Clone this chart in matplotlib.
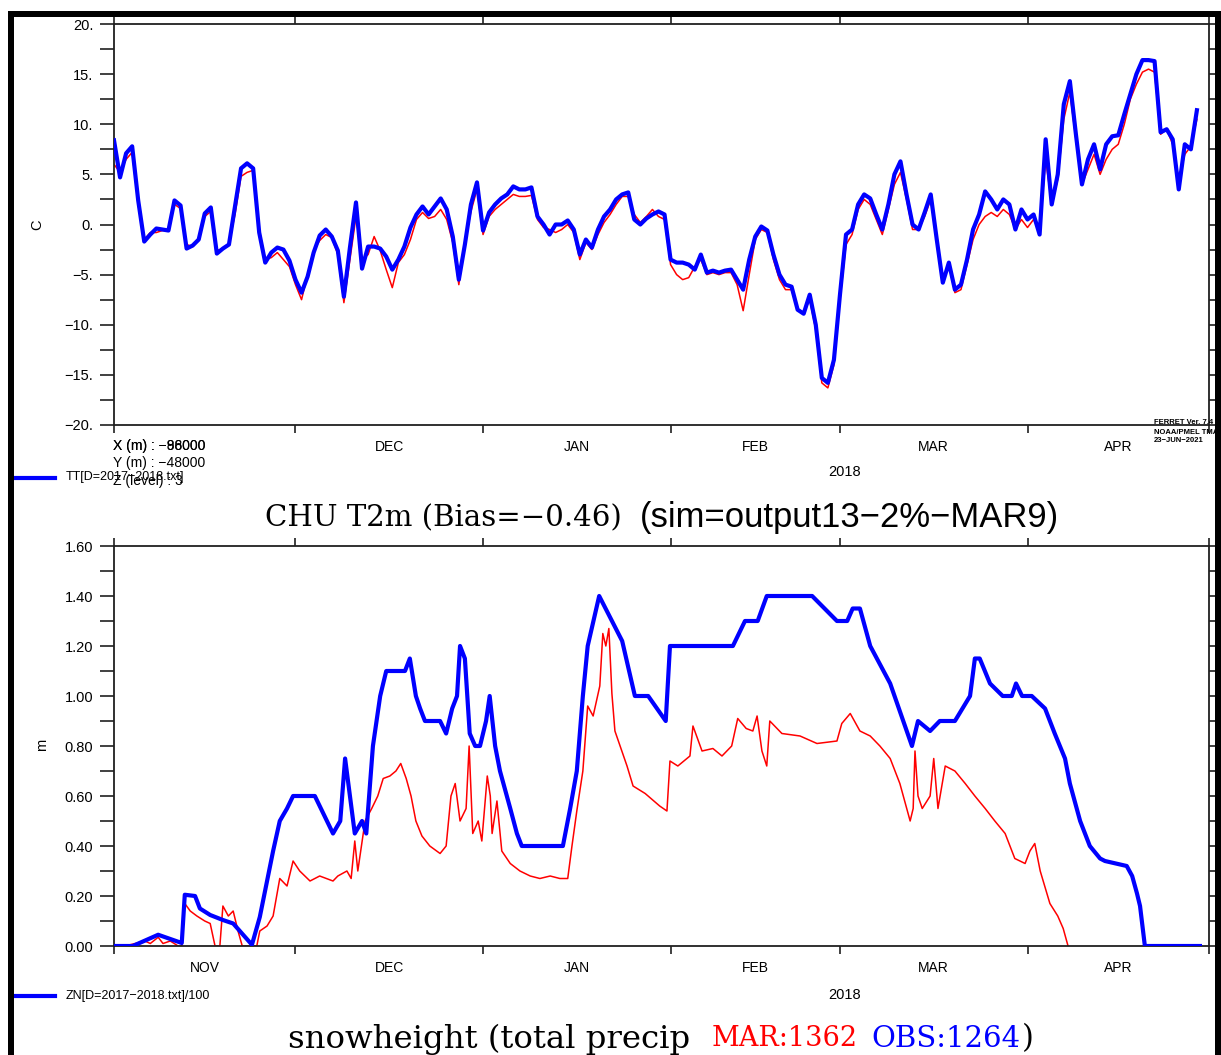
import matplotlib
matplotlib.use("Agg")
import matplotlib.pyplot as plt
import matplotlib.dates as mdates
from matplotlib.ticker import MultipleLocator, FuncFormatter, NullLocator
from matplotlib.patches import Rectangle
from matplotlib.lines import Line2D
from datetime import datetime, timedelta

# ---------------------------------------------------------------- data
season_start = datetime(2017, 11, 1)
season_end = datetime(2018, 5, 1)
month_starts = [datetime(2017, 11, 1), datetime(2017, 12, 1), datetime(2018, 1, 1),
                datetime(2018, 2, 1), datetime(2018, 3, 1), datetime(2018, 4, 1),
                datetime(2018, 5, 1)]
month_names = ["NOV", "DEC", "JAN", "FEB", "MAR", "APR"]

# daily 2 m temperature (C), day 0 = 1 Nov 2017
t2m_obs = [8.4, 4.7, 7.1, 7.8, 2.4, -1.7, -1.0, -0.4, -0.5, -0.6,
           2.4, 1.9, -2.4, -2.1, -1.5, 1.1, 1.7, -2.9, -2.4, -2.0,
           1.8, 5.6, 6.1, 5.6, -0.8, -3.8, -2.8, -2.3, -2.5, -3.6,
           -5.5, -6.8, -5.2, -2.8, -1.1, -0.5, -1.2, -2.6, -7.2, -2.3,
           2.2, -4.4, -2.2, -2.2, -2.4, -3.2, -4.5, -3.5, -2.2, -0.3,
           1.0, 1.8, 1.0, 1.8, 2.6, 1.5, -1.2, -5.5, -2.0, 2.0,
           4.2, -0.6, 1.2, 2.0, 2.6, 3.0, 3.8, 3.5, 3.5, 3.7,
           0.8, 0.0, -1.0, 0.0, 0.0, 0.4, -0.5, -3.0, -1.5, -2.3,
           -0.5, 0.8, 1.5, 2.5, 3.0, 3.2, 0.5, 0.0, 0.6, 1.0,
           1.3, 1.0, -3.5, -3.8, -3.8, -4.0, -4.5, -3.0, -4.8, -4.6,
           -4.8, -4.6, -4.5, -5.5, -6.5, -3.5, -1.2, -0.2, -0.6, -3.0,
           -5.0, -6.0, -6.2, -8.5, -8.9, -7.0, -10.0, -15.3, -15.8, -13.5,
           -7.0, -1.0, -0.5, 2.0, 3.0, 2.6, 1.0, -0.5, 2.0, 5.0,
           6.3, 3.0, 0.0, -0.5, 1.2, 3.0, -1.5, -5.8, -3.8, -6.5,
           -6.0, -3.5, -0.5, 1.0, 3.3, 2.5, 1.5, 2.5, 2.0, -0.5,
           1.5, 0.5, 1.0, -1.0, 8.5, 2.0, 5.0, 12.0, 14.3, 9.0,
           4.0, 6.5, 8.0, 5.5, 8.0, 8.8, 8.9, 11.0, 13.0, 15.0,
           16.4, 16.4, 16.3, 9.2, 9.5, 8.5, 3.5, 8.0, 7.5, 11.4]

t2m_sim = [6.0, 5.2, 6.5, 7.2, 2.0, -1.5, -0.8, -0.8, -0.6, -0.6,
           2.0, 1.6, -2.0, -2.2, -1.6, 0.8, 1.3, -2.6, -2.4, -1.9,
           1.0, 4.8, 5.2, 5.4, -0.5, -3.5, -3.3, -2.8, -3.5, -4.2,
           -6.0, -7.5, -5.0, -2.6, -1.6, -1.0, -1.3, -3.0, -7.8, -3.5,
           0.8, -3.5, -3.0, -1.2, -2.6, -4.5, -6.3, -3.8, -3.0, -1.5,
           0.5, 1.2, 0.6, 0.8, 1.5, 0.5, -1.8, -6.0, -1.8, 1.3,
           3.5, -1.0, 0.8, 1.5, 2.0, 2.5, 3.0, 2.8, 2.8, 2.9,
           0.5, -0.3, -0.5, -0.8, -0.5, 0.0, -0.8, -3.5, -1.8, -2.5,
           -1.0, 0.2, 1.0, 2.0, 2.8, 2.8, 1.0, 0.2, 0.8, 1.5,
           0.8, 0.5, -4.0, -5.0, -5.5, -5.3, -4.2, -3.5, -5.0, -4.8,
           -5.0, -4.8, -4.8, -6.0, -8.6, -5.0, -1.5, -0.5, -0.8, -3.5,
           -5.5, -6.5, -6.5, -8.6, -8.8, -7.5, -10.5, -15.8, -16.3, -14.0,
           -7.5, -2.0, -1.0, 1.5, 2.5, 2.0, 0.5, -1.0, 1.5, 4.0,
           5.2, 2.5, -0.5, -0.5, 0.8, 2.5, -1.5, -5.8, -4.0, -6.8,
           -6.5, -4.0, -1.5, 0.0, 0.8, 1.2, 0.8, 1.5, 1.0, -0.5,
           0.5, -0.3, 0.5, -0.5, 6.5, 2.0, 4.5, 10.5, 13.2, 8.5,
           4.0, 5.5, 7.0, 5.0, 6.5, 7.5, 8.0, 10.0, 12.5, 14.0,
           15.2, 15.5, 15.2, 9.0, 9.5, 8.0, 4.5, 7.0, 7.8, 10.5]

# snow height (m); time in days since 1 Nov 2017
snow_obs_day = [0, 3.1, 7.3, 11.2, 11.7, 13.4, 14.2, 15.9, 18.0, 19.7,
                22.8, 24.1, 26.3, 27.4, 28.6, 29.6, 33.2, 36.2, 37.4, 38.2,
                39.0, 39.8, 41.0, 41.7, 42.8, 44.0, 45.0, 48.1, 48.9, 49.9,
                50.6, 51.4, 53.9, 54.9, 55.9, 56.7, 57.2, 58.0, 58.8, 59.7,
                60.5, 61.5, 62.1, 63.0, 63.8, 65.5, 66.6, 67.4, 74.2, 75.4,
                76.5, 77.5, 78.3, 80.2, 84.0, 86.1, 88.3, 91.2, 91.9, 102.3,
                104.3, 106.4, 107.9, 115.4, 119.5, 121.2, 122.1, 123.3, 125.0, 128.3,
                131.9, 132.9, 134.9, 136.5, 139.0, 141.5, 142.3, 143.1, 144.8, 146.9,
                148.4, 149.1, 150.1, 151.7, 153.9, 155.5, 157.2, 158.0, 159.7, 161.3,
                163.0, 163.8, 167.4, 168.3, 169.1, 169.6, 170.1, 170.4, 179.5]
snow_obs = [0.0, 0.0, 0.045, 0.012, 0.205, 0.2, 0.15, 0.124, 0.104, 0.09,
            0.005, 0.116, 0.38, 0.5, 0.55, 0.6, 0.6, 0.45, 0.5, 0.75,
            0.6, 0.45, 0.5, 0.45, 0.8, 1.0, 1.1, 1.1, 1.15, 1.0,
            0.95, 0.9, 0.9, 0.85, 0.95, 1.0, 1.2, 1.15, 0.85, 0.8,
            0.8, 0.9, 1.0, 0.8, 0.7, 0.55, 0.45, 0.4, 0.4, 0.55,
            0.7, 1.0, 1.2, 1.4, 1.22, 1.0, 1.0, 0.9, 1.2, 1.2,
            1.3, 1.3, 1.4, 1.4, 1.3, 1.3, 1.35, 1.35, 1.2, 1.05,
            0.8, 0.9, 0.86, 0.9, 0.9, 1.0, 1.15, 1.15, 1.05, 1.0,
            1.0, 1.05, 1.0, 1.0, 0.95, 0.85, 0.75, 0.65, 0.5, 0.4,
            0.35, 0.34, 0.32, 0.28, 0.21, 0.16, 0.06, 0.0, 0.0]

snow_sim_day = [0, 1.8, 3.5, 5.1, 6.0, 7.3, 8.1, 9.3, 10.6, 11.2,
                11.7, 12.6, 13.7, 15.0, 15.9, 16.7, 17.5, 18.0, 18.9, 19.7,
                20.5, 21.2, 23.6, 24.1, 25.3, 26.3, 27.4, 28.6, 29.6, 30.7,
                32.4, 34.0, 36.2, 37.0, 38.5, 39.2, 39.8, 40.3, 41.5, 42.6,
                43.6, 44.5, 45.6, 46.6, 47.4, 48.3, 49.1, 49.9, 50.9, 52.2,
                53.9, 54.9, 55.7, 56.4, 57.2, 58.2, 58.7, 59.3, 60.2, 60.8,
                61.7, 62.2, 62.5, 63.3, 64.1, 65.5, 67.1, 68.8, 70.4, 72.1,
                73.7, 75.0, 75.7, 76.5, 77.5, 78.3, 79.2, 80.3, 80.8, 81.3,
                81.8, 82.3, 82.8, 84.8, 85.8, 87.8, 90.2, 91.4, 91.9, 93.2,
                95.2, 95.7, 97.2, 99.0, 100.5, 102.1, 103.1, 104.5, 105.6, 106.3,
                107.1, 107.9, 108.4, 110.4, 113.4, 116.2, 119.5, 120.3, 121.7, 123.3,
                125.0, 126.6, 128.3, 129.9, 131.6, 132.1, 132.4, 132.9, 133.6, 134.9,
                135.5, 136.2, 137.4, 139.0, 140.7, 142.3, 144.0, 145.6, 147.3, 148.1,
                148.9, 150.6, 151.4, 152.2, 153.1, 154.7, 156.0, 156.9, 157.7]
snow_sim = [0, 0, 0.01, 0.02, 0.01, 0.035, 0.01, 0.02, 0.0, 0.0,
            0.17, 0.14, 0.12, 0.10, 0.09, 0.0, 0.0, 0.16, 0.12, 0.14,
            0.06, 0.0, 0.0, 0.06, 0.08, 0.12, 0.27, 0.24, 0.34, 0.30,
            0.26, 0.28, 0.26, 0.28, 0.30, 0.27, 0.42, 0.30, 0.50, 0.55,
            0.60, 0.67, 0.68, 0.70, 0.73, 0.67, 0.60, 0.50, 0.44, 0.40,
            0.37, 0.40, 0.60, 0.65, 0.50, 0.55, 0.80, 0.45, 0.50, 0.42,
            0.68, 0.60, 0.45, 0.58, 0.38, 0.33, 0.30, 0.28, 0.27, 0.28,
            0.27, 0.27, 0.40, 0.54, 0.70, 0.96, 0.92, 1.04, 1.25, 1.20,
            1.27, 1.01, 0.86, 0.72, 0.64, 0.61, 0.56, 0.54, 0.74, 0.72,
            0.76, 0.88, 0.78, 0.79, 0.76, 0.80, 0.91, 0.87, 0.86, 0.92,
            0.78, 0.72, 0.90, 0.85, 0.84, 0.81, 0.82, 0.89, 0.93, 0.86,
            0.84, 0.80, 0.75, 0.65, 0.50, 0.55, 0.78, 0.60, 0.55, 0.60,
            0.75, 0.55, 0.72, 0.70, 0.65, 0.60, 0.55, 0.50, 0.45, 0.40,
            0.35, 0.33, 0.38, 0.41, 0.30, 0.17, 0.12, 0.07, 0.0]

t2m_title = "CHU T2m (Bias=\u22120.46) "
sim_title = "(sim=output13\u22122%\u2212MAR9)"
snow_title = "snowheight (total precip "
mar_total = "MAR:1362"
obs_total = "OBS:1264"

# ---------------------------------------------------------------- figure
W, H = 1221, 1055
fig = plt.figure(figsize=(W / 100, H / 100), dpi=100)
fig.patch.set_facecolor("white")
renderer = fig.canvas.get_renderer()

SANS = ["Liberation Sans", "DejaVu Sans"]
SERIF = ["DejaVu Serif"]


def fx(px):
    return px / W


def fy(py):
    return 1 - py / H


def to_dates(days):
    return [season_start + timedelta(days=float(d)) for d in days]


def style_axes(ax, ylo, yhi, major, minor, fmt):
    ax.set_xlim(season_start, season_end)
    ax.set_ylim(ylo, yhi)
    for sp in ax.spines.values():
        sp.set_linewidth(1.3)
        sp.set_color("#202020")
    ax.xaxis.set_major_locator(mdates.MonthLocator())
    ax.xaxis.set_minor_locator(NullLocator())
    ax.xaxis.set_major_formatter(FuncFormatter(lambda v, p: ""))
    ax.tick_params(axis="x", which="major", direction="out", length=5.5,
                   width=1.2, top=True, bottom=True, color="#202020")
    ax.yaxis.set_major_locator(MultipleLocator(major))
    ax.yaxis.set_minor_locator(MultipleLocator(minor))
    ax.yaxis.set_major_formatter(FuncFormatter(fmt))
    ax.tick_params(axis="y", which="both", direction="out", length=10,
                   width=1.2, left=True, right=True, labelright=False,
                   color="#202020", pad=5)
    for lab in ax.get_yticklabels():
        lab.set_family(SANS)
        lab.set_fontsize(10.5)
    return ax.get_xaxis_transform()


def month_mid(i):
    a, b = month_starts[i], month_starts[i + 1]
    return a + (b - a) / 2


def fit_text(x0, x1, y, s, base=20, **kw):
    t = fig.text(fx(x0), fy(y), s, ha="left", va="center", fontsize=base, **kw)
    w = t.get_window_extent(renderer).width
    t.set_fontsize(base * (x1 - x0) / w)
    return t


# ---------------- temperature panel
ax1 = fig.add_axes([fx(114), fy(425), fx(1209) - fx(114), fy(24) - fy(425)])
days = list(range(len(t2m_obs)))
ax1.plot(to_dates(days), t2m_sim, color="#ff0000", lw=1.1, zorder=2)
ax1.plot(to_dates(days), t2m_obs, color="#0000ff", lw=3.0, zorder=3)
xt1 = style_axes(ax1, -20, 20, 5, 2.5,
                 lambda v, p: f"{v:.0f}.".replace("-", "\u2212"))
for i, name in enumerate(month_names):
    if i == 0:
        continue
    ax1.text(month_mid(i), -0.055, name, transform=xt1, ha="center",
             va="center", fontsize=10, family=SANS)
ax1.text(datetime(2018, 3, 1, 20), -0.117, "2018", transform=xt1,
         ha="center", va="center", fontsize=10.5, family=SANS)

# ---------------- snow panel
ax2 = fig.add_axes([fx(114), fy(946), fx(1209) - fx(114), fy(546) - fy(946)])
ax2.plot(to_dates(snow_sim_day), snow_sim, color="#ff0000", lw=1.1, zorder=2)
ax2.plot(to_dates(snow_obs_day), snow_obs, color="#0000ff", lw=3.0, zorder=3)
xt2 = style_axes(ax2, 0, 1.6, 0.2, 0.1, lambda v, p: f"{v:.2f}")
for i, name in enumerate(month_names):
    ax2.text(month_mid(i), -0.055, name, transform=xt2, ha="center",
             va="center", fontsize=10, family=SANS)
ax2.text(datetime(2018, 3, 1, 20), -0.1225, "2018", transform=xt2,
         ha="center", va="center", fontsize=10.5, family=SANS)

# axis units
fig.text(fx(37), fy(225), "C", rotation=90, ha="center", va="center",
         fontsize=10.5, family=SANS)
fig.text(fx(42), fy(745), "m", rotation=90, ha="center", va="center",
         fontsize=10.5, family=SANS)

# grid position labels under the temperature panel
for s in ["X (m) : \u221296000", "X (m) : \u221288000"]:
    fig.text(fx(113), fy(446), s, ha="left", va="center", fontsize=10, family=SANS)
fig.text(fx(113), fy(463), "Y (m) : \u221248000", ha="left", va="center",
         fontsize=10, family=SANS)
fig.text(fx(113), fy(481), "Z (level) : 3", ha="left", va="center",
         fontsize=10, family=SANS)

# series keys
fig.add_artist(Line2D([fx(13), fx(55)], [fy(478), fy(478)], color="#0000ff", lw=3.0))
fig.text(fx(66), fy(477), "TT[D=2017\u22122018.txt]", ha="left", va="center",
         fontsize=9, family=SANS)
fig.add_artist(Line2D([fx(13), fx(55)], [fy(996), fy(996)], color="#0000ff", lw=3.0))
fig.text(fx(66), fy(996), "ZN[D=2017\u22122018.txt]/100", ha="left", va="center",
         fontsize=9, family=SANS)

# stamp
for s, y in [("FERRET Ver. 7.4", 423), ("NOAA/PMEL TMAP", 432), ("23\u2212JUN\u22122021", 441)]:
    fig.text(fx(1154), fy(y), s, ha="left", va="center", fontsize=5.5,
             weight="bold", family=SANS)

# titles
fit_text(265, 632, 518, t2m_title, family=SERIF)
fit_text(640, 1058, 518, sim_title, family=SANS)

fit_text(288, 700, 1039, snow_title, family=SERIF)
fit_text(712, 858, 1039, mar_total, family=SERIF, color="#ff0000")
fit_text(871, 1020, 1039, obs_total, family=SERIF, color="#0000ff")
fit_text(1022, 1034, 1039, ")", family=SERIF)

# page frame
for (x, y, w, h) in [(8, 11, 1213, 6), (8, 11, 6, 1044), (1215, 11, 6, 1044)]:
    fig.add_artist(Rectangle((fx(x), fy(y + h)), w / W, h / H, color="black",
                             transform=fig.transFigure, zorder=20, lw=0))

fig.savefig("out.png", dpi=100, facecolor="white")
